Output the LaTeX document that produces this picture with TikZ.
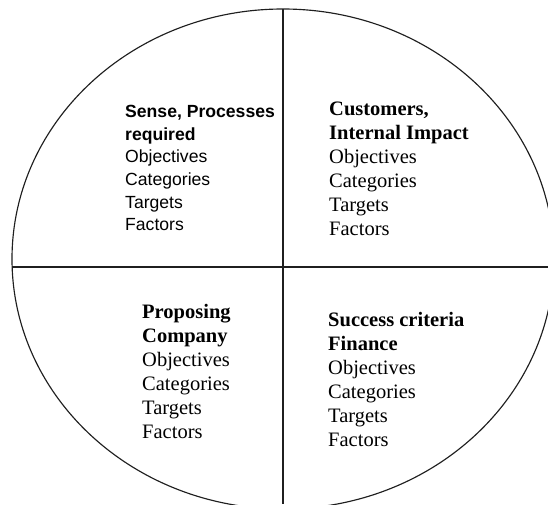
\documentclass[tikz,border=0pt]{standalone}
\usepackage{fontspec}
\setmainfont{Liberation Serif}
\setsansfont{Liberation Sans}
\tikzset{
  quarter/.style={anchor=north west, inner sep=0pt, align=left},
  serifbox/.style={quarter, font=\fontsize{20.5}{24}\selectfont},
  sansbox/.style={quarter, font=\sffamily\fontsize{17.6}{22.7}\selectfont},
  rim/.style={line width=1.15pt, draw=black!88}
}
\begin{document}
\begin{tikzpicture}[x=1pt,y=-1pt]
  \useasboundingbox (0,0) rectangle (548,504);
  % outline
  \draw[rim] (283,259) ellipse [x radius=271, y radius=250];
  % dividing lines
  \coordinate (top) at (283,9);
  \coordinate (bottom) at (283,504);
  \coordinate (left) at (12.3,267);
  \coordinate (right) at (548,267);
  \draw[rim] (top) -- (bottom) (left) -- (right);
  % quarters
  \node[sansbox] (sense) at (125,105)
    {\textbf{Sense, Processes}\\\textbf{required}\\Objectives\\Categories\\Targets\\Factors};
  \node[serifbox] (customers) at (329,102)
    {\textbf{Customers,}\\\textbf{Internal Impact}\\Objectives\\Categories\\Targets\\Factors};
  \node[serifbox] (company) at (142,304)
    {\textbf{Proposing}\\\textbf{Company}\\Objectives\\Categories\\Targets\\Factors};
  \node[serifbox] (finance) at (328,312)
    {\textbf{Success criteria}\\\textbf{Finance}\\Objectives\\Categories\\Targets\\Factors};
\end{tikzpicture}
\end{document}
